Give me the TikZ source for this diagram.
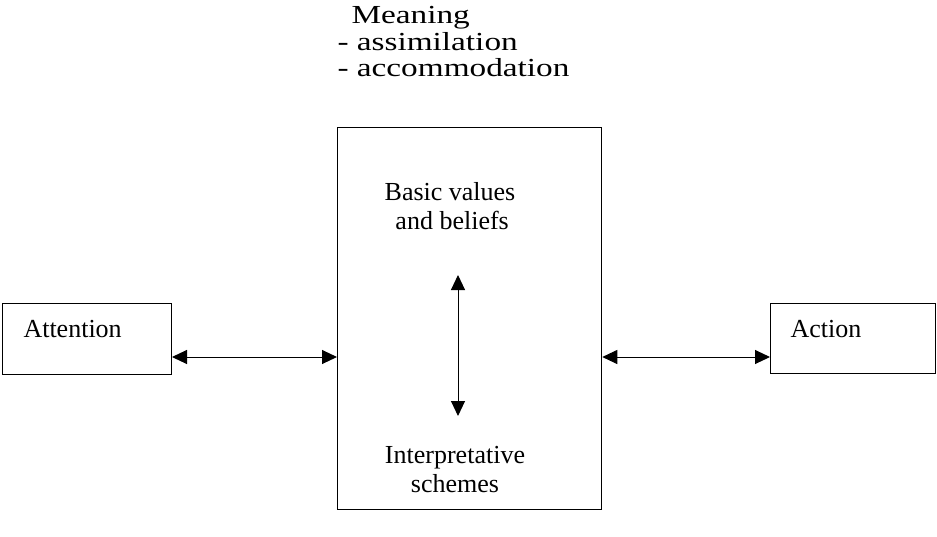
\documentclass[tikz,border=0pt]{standalone}
\usepackage{fontspec}
\setmainfont{Liberation Serif}
\usetikzlibrary{arrows.meta}
\newcommand{\wide}[1]{\scalebox{1.28}[1]{#1}}
\begin{document}
\begin{tikzpicture}[x=1pt, y=-1pt, >={Triangle[length=15pt,width=14pt]}, line width=1pt,
    txt/.style={inner sep=0pt, anchor=base, font=\fontsize{26}{29}\selectfont},
    top/.style={inner sep=0pt, anchor=base west, font=\fontsize{26}{26.5}\selectfont},
    frame/.style={draw, anchor=north west, inner sep=0pt}]
    \useasboundingbox (0,0) rectangle (937,536);
            % heading
            \node[top] (meaning) at (351,23) {\wide{Meaning}};
            \node[top] (assim) at (337,50) {\wide{- assimilation}};
            \node[top] (accom) at (337,76) {\wide{- accommodation}};
            % boxes
            \node[frame, line width=1.3pt, minimum width=264pt, minimum height=382pt] (core) at (337,127) {};
            \node[frame, minimum width=169pt, minimum height=71pt] (attention) at (2,303) {};
            \node[frame, minimum width=165pt, minimum height=70pt] (action) at (770,303) {};
            \node[txt, anchor=base west] (attlbl) at (23,337) {Attention};
            \node[txt, anchor=base west] (actlbl) at (790,337) {Action};
            % base of a two-line node is its last line
            \node[txt, align=center] (values) at (450,229) {Basic values\\ \,and beliefs};
            \node[txt, align=center] (schemes) at (455,492) {Interpretative\\ schemes};
            % arrows
            \coordinate (lvl) at (0,357);
            \coordinate (up) at (458,275);
            \coordinate (down) at (458,416);
            \draw[<->] (attention.east |- lvl) -- (core.west |- lvl);
            \draw[<->] (core.east |- lvl) -- (action.west |- lvl);
            \draw[<->] (up) -- (down);
        \end{tikzpicture}
\end{document}
